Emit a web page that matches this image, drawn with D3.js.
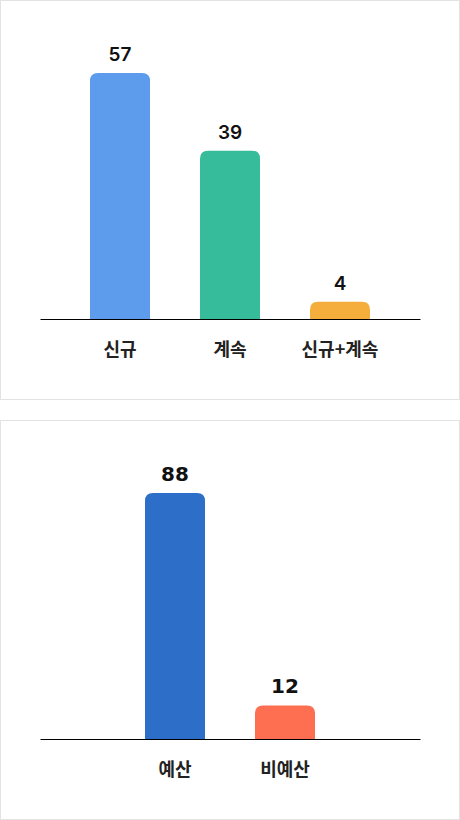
<!DOCTYPE html>
<html>
<head>
<meta charset="utf-8">
<script src="https://cdn.jsdelivr.net/npm/d3@7"></script>
<style>
  body { margin: 0; background: #fff; }
  .panel {
    width: 458px;
    height: 398px;
    border: 1px solid #e3e3e3;
    margin-bottom: 20px;
  }
  .panel svg { display: block; }
  .axis path { stroke: #000; }
</style>
</head>
<body>
<div id="typeChart" class="panel"></div>
<div id="budgetChart" class="panel"></div>
<script>
const typeCategories = ["신규", "계속", "신규+계속"];
const typeValues = [57, 39, 4];
const typeColors = ["#5d9cec", "#37bc9b", "#f5ad3b"];

const budgetCategories = ["예산", "비예산"];
const budgetValues = [88, 12];
const budgetColors = ["#2d6ec9", "#fe6e51"];

const draw = (selector, categories, values, colors, valueFont) => {
  const width = 458,
    height = 398,
    left = 39,
    right = 419,
    baseline = 318,
    top = 72,
    step = 110,
    inner = 50 / 110,
    radius = 8;

  const svg = d3
    .select(selector)
    .append("svg")
    .attr("width", width)
    .attr("height", height);

  // keep every bar slot the same size whatever the number of bars
  const outer = ((right - left) / step - categories.length + inner) / 2;

  const x = d3
    .scaleBand()
    .domain(categories)
    .range([left, right])
    .paddingInner(inner)
    .paddingOuter(outer);

  const y = d3
    .scaleLinear()
    .domain([0, d3.max(values)])
    .range([baseline, top]);

  const data = categories.map((c, i) => ({ c, v: values[i], color: colors[i] }));

  const barPath = (d) => {
    const x0 = x(d.c),
      w = x.bandwidth(),
      y0 = y(d.v),
      r = Math.min(radius, baseline - y0);
    return (
      `M${x0},${baseline}V${y0 + r}` +
      `Q${x0},${y0} ${x0 + r},${y0}` +
      `H${x0 + w - r}` +
      `Q${x0 + w},${y0} ${x0 + w},${y0 + r}` +
      `V${baseline}Z`
    );
  };

  svg
    .append("g")
    .selectAll("path")
    .data(data)
    .join("path")
    .attr("fill", (d) => d.color)
    .attr("d", barPath);

  svg
    .append("g")
    .selectAll("text")
    .data(data)
    .join("text")
    .attr("x", (d) => x(d.c) + x.bandwidth() / 2)
    .attr("y", (d) => y(d.v) - 12)
    .attr("text-anchor", "middle")
    .attr("font-family", valueFont.family)
    .attr("font-weight", valueFont.weight)
    .attr("font-size", valueFont.size)
    .attr("fill", "#111")
    .text((d) => d.v);

  const axis = svg
    .append("g")
    .classed("axis", true)
    .attr("transform", `translate(0,${baseline})`)
    .call(d3.axisBottom(x).tickSize(0).tickPadding(24));

  axis
    .selectAll("text")
    .attr("font-family", "'Noto Sans CJK KR', sans-serif")
    .attr("font-weight", 700)
    .attr("font-size", 18)
    .attr("fill", "#222");
};

draw("#typeChart", typeCategories, typeValues, typeColors, {
  family: "Inter, 'Noto Sans CJK KR', sans-serif",
  weight: 600,
  size: 19,
});
draw("#budgetChart", budgetCategories, budgetValues, budgetColors, {
  family: "'DejaVu Sans', sans-serif",
  weight: 700,
  size: 20,
});
</script>
</body>
</html>
